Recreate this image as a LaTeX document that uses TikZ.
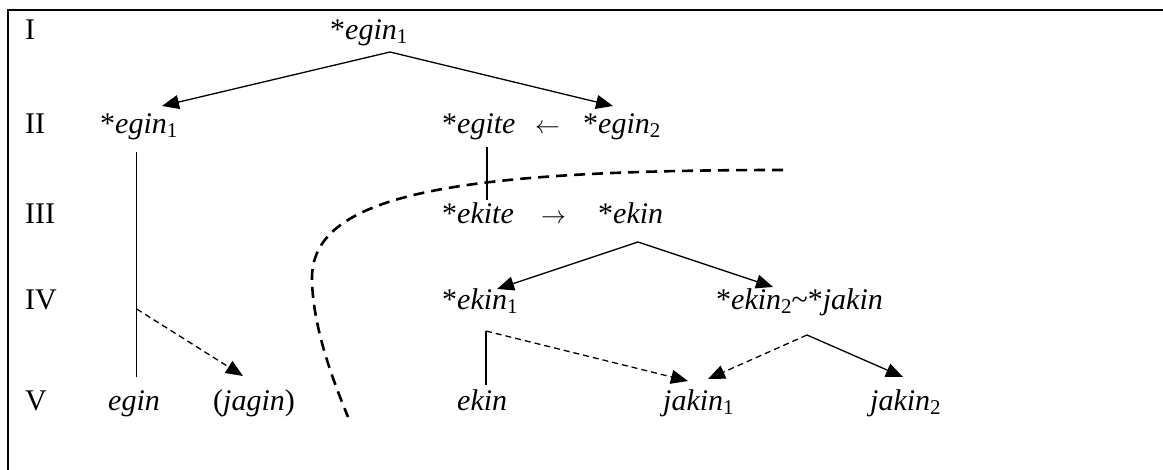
\documentclass[tikz,border=0pt]{standalone}
\usepackage{fontspec}
\setmainfont{Liberation Serif}
\usetikzlibrary{arrows.meta}
\newcommand\subn[1]{\raisebox{-3.5pt}{\fontsize{21}{21}\selectfont #1}}
\begin{document}
\begin{tikzpicture}[x=1pt,y=-1pt,
  txt/.style={anchor=base west,inner sep=0pt,font=\fontsize{30}{36}\selectfont},
  link/.style={line width=1.3pt},
  arr/.style={link,-{Triangle[length=17pt,width=14pt]}},
  dlink/.style={link,dash pattern=on 6pt off 4pt},
  darr/.style={arr,dash pattern=on 6pt off 4pt},
  border/.style={line width=2.6pt},
  boundary/.style={line width=2.6pt,dash pattern=on 11pt off 7pt}]
\useasboundingbox (0,0) rectangle (1163,470);
\draw[border] (8,470) -- (8,10) -- (1163,10);
% level labels
\node[txt] (l1) at (25,40) {I};
\node[txt] (l2) at (25,134) {II};
\node[txt] (l3) at (25,224) {III};
\node[txt] (l4) at (25,310) {IV};
\node[txt] (l5) at (25,411) {V};
% row I
\node[txt] (a) at (330,40) {*\textit{egin}\subn{1}};
% row II
\node[txt] (b1) at (100,134) {*\textit{egin}\subn{1}};
\node[txt] (b2) at (442,134) {*\textit{egite}};
\node[txt] (b2a) at (535,134) {$\leftarrow$};
\node[txt] (b3) at (583,134) {*\textit{egin}\subn{2}};
% row III
\node[txt] (c1) at (442,224) {*\textit{ekite}};
\node[txt] (c1a) at (541,224) {$\rightarrow$};
\node[txt] (c2) at (598,224) {*\textit{ekin}};
% row IV
\node[txt] (d1) at (442,310) {*\textit{ekin}\subn{1}};
\node[txt] (d2) at (716,310) {*\textit{ekin}\subn{2}\textasciitilde*\textit{jakin}};
% row V
\node[txt] (e1) at (108,411) {\textit{egin}};
\node[txt] (e2) at (213,411) {(\textit{jagin})};
\node[txt] (e3) at (457,411) {\textit{ekin}};
\node[txt] (e4) at (663,411) {\textit{jakin}\subn{1}};
\node[txt] (e5) at (870,411) {\textit{jakin}\subn{2}};
% connector points
\coordinate (aS) at (390,52);
\coordinate (b1T) at (162,106);
\coordinate (b3T) at (613,106);
\coordinate (b1S) at (136.7,152);
\coordinate (b1M) at (136.7,309);
\coordinate (e1T) at (136.7,377);
\coordinate (e2T) at (243,376);
\coordinate (b2S) at (487,147);
\coordinate (c1T) at (487,200);
\coordinate (c2S) at (638,242);
\coordinate (d1T) at (497,289);
\coordinate (d2T) at (773,287);
\coordinate (d1S) at (486,331);
\coordinate (e3T) at (486,385);
\coordinate (e4Ta) at (688,381);
\coordinate (d2S) at (807,335);
\coordinate (e4Tb) at (708,379);
\coordinate (e5T) at (903,377);
% connectors
\draw[arr] (aS) -- (b1T);
\draw[arr] (aS) -- (b3T);
\draw[link] (b1S) -- (e1T);
\draw[darr] (b1M) -- (e2T);
\draw[link] (b2S) -- (c1T);
\draw[arr] (c2S) -- (d1T);
\draw[arr] (c2S) -- (d2T);
\draw[link] (e3T) -- (d1S);
\draw[darr] (d1S) -- (e4Ta);
\draw[darr] (d2S) -- (e4Tb);
\draw[arr] (d2S) -- (e5T);
% boundary curve
\draw[boundary] (783,170) .. controls (450,170) and (310,195) .. (312,280)
  .. controls (313,330) and (335,385) .. (348,417);
\end{tikzpicture}
\end{document}
